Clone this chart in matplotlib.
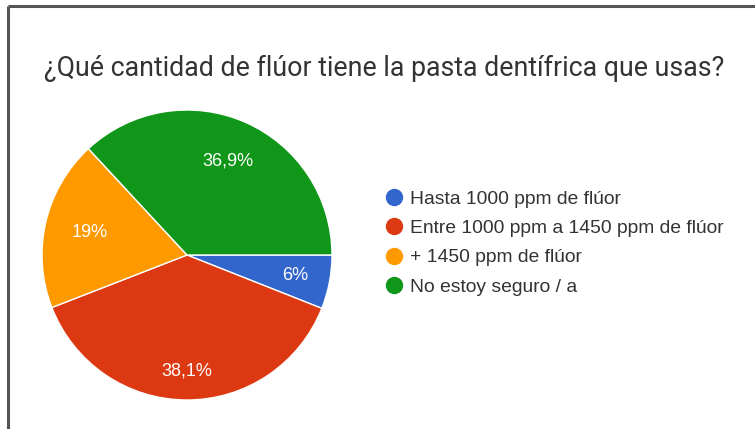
import matplotlib
matplotlib.use("Agg")
import matplotlib.pyplot as plt
from matplotlib.lines import Line2D
import numpy as np

# Survey answers (share of respondents, %)
categories = [
    "Hasta 1000 ppm de flúor",
    "Entre 1000 ppm a 1450 ppm de flúor",
    "+ 1450 ppm de flúor",
    "No estoy seguro / a",
]
shares = [6.0, 38.1, 19.0, 36.9]
share_labels = ["6%", "38,1%", "19%", "36,9%"]
colors = ["#3366CC", "#DC3912", "#FF9900", "#109618"]
label_radius = [0.76, 0.80, 0.69, 0.71]

W, H = 755, 429
fig = plt.figure(figsize=(W / 100, H / 100), dpi=100)
fig.patch.set_facecolor("white")

# thin frame along the top and left edges
frame = fig.add_axes([0, 0, 1, 1])
frame.set_xlim(0, W)
frame.set_ylim(H, 0)
frame.axis("off")
frame.plot([8, W], [6, 6], color="#555555", lw=2.2, solid_capstyle="butt")
frame.plot([8, 8], [6, H], color="#555555", lw=2.2, solid_capstyle="butt")

fig.text(44 / W, 1 - 68 / H,
         "¿Qué cantidad de flúor tiene la pasta dentífrica que usas?",
         fontsize=19.3, family="Roboto", color="#333333", va="center", ha="left")

# pie axes, centre (187, 255) px, radius 145 px
cx, cy, r = 187, 255, 145
ax = fig.add_axes([(cx - r) / W, (H - cy - r) / H, 2 * r / W, 2 * r / H])
wedges, _ = ax.pie(shares, colors=colors, startangle=0, counterclock=False,
                   wedgeprops=dict(edgecolor="white", linewidth=1.0))
ax.set_xlim(-1, 1)
ax.set_ylim(-1, 1)
ax.set_aspect("auto")

for w, txt, rad in zip(wedges, share_labels, label_radius):
    mid = np.deg2rad((w.theta1 + w.theta2) / 2)
    ax.text(rad * np.cos(mid), rad * np.sin(mid), txt, color="white",
            fontsize=13, family="Liberation Sans", ha="center", va="center")

handles = [Line2D([], [], marker="o", linestyle="none", markersize=11.5,
                  markerfacecolor=c, markeredgecolor=c) for c in colors]
fig.legend(handles, categories, loc="upper left",
           bbox_to_anchor=(386 / W, 1 - 190 / H), frameon=False,
           prop=dict(family="Liberation Sans", size=13.9),
           labelcolor="#333333", handlelength=0.8, handletextpad=0.45,
           labelspacing=0.62, borderpad=0, borderaxespad=0)

fig.savefig("out.png", dpi=100, facecolor="white")
